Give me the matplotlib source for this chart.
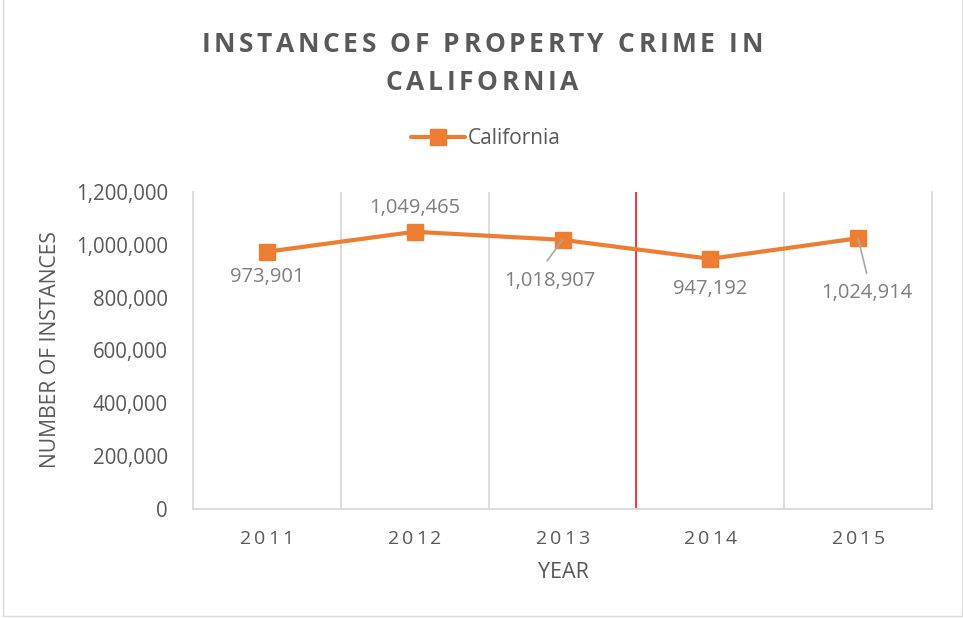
import matplotlib
matplotlib.use('Agg')
import matplotlib.pyplot as plt
from matplotlib import font_manager
from matplotlib.ft2font import FT2Font
from matplotlib.patches import Rectangle
from matplotlib.ticker import FuncFormatter

years = ['2011', '2012', '2013', '2014', '2015']
crimes = [973901, 1049465, 1018907, 947192, 1024914]
# where each data label sits relative to its marker (pixels), and leader line or not
label_offsets = [(0, -25), (0, 24), (-13, -41), (0, -30), (9, -55)]
leaders = [False, False, True, False, True]

W, H = 963, 619
FONT = 'Open Sans'
ORANGE = '#ED7D31'
DARK = '#595959'
LABEL = '#7f7f7f'
GRID = '#d9d9d9'


def spaced_text(fig, s, xc, yc, spacing, size, weight='normal', color=DARK):
    # matplotlib has no letter spacing, so lay the characters out one by one
    path = font_manager.findfont(font_manager.FontProperties(family=FONT, weight=weight))
    f = FT2Font(path)
    f.set_size(size, fig.dpi)
    adv = []
    for c in s:
        g = f.load_char(ord(c))
        adv.append(g.linearHoriAdvance / 65536)
    total = sum(adv) + spacing * (len(s) - 1)
    x = xc - total / 2
    for c, a in zip(s, adv):
        if c != ' ':
            fig.text(x / W, 1 - yc / H, c, ha='left', va='center_baseline',
                     fontsize=size, fontweight=weight, color=color, family=FONT)
        x += a + spacing


fig = plt.figure(figsize=(W / 100, H / 100), dpi=100)
ax = fig.add_axes([193 / W, 1 - 509 / H, (932 - 193) / W, (509 - 192) / H])

xs = list(range(len(years)))
ax.plot(xs, crimes, color=ORANGE, lw=3, marker='s', markersize=11,
        label='California', solid_capstyle='round')

ax.set_xlim(-0.5, len(years) - 0.5)
ax.set_ylim(0, 1200000)
ax.set_yticks(range(0, 1200001, 200000))
ax.yaxis.set_major_formatter(FuncFormatter(lambda v, p: f'{int(v):,}'))
ax.tick_params(axis='y', length=0, pad=18, labelsize=14.8, labelcolor=DARK)
for t in ax.get_yticklabels():
    t.set_family(FONT)
ax.set_xticks(xs)
ax.set_xticklabels([])
ax.tick_params(axis='x', length=0)

for b in [0.5, 1.5, 3.5]:
    ax.axvline(b, color=GRID, lw=1.3, zorder=0)
ax.axvline(2.5, color='#ee2a2a', lw=1.3, zorder=0)

ax.spines['top'].set_visible(False)
for side in ['left', 'right', 'bottom']:
    ax.spines[side].set_color(GRID)
    ax.spines[side].set_linewidth(1.3)

for i, v in enumerate(crimes):
    dx, dy = label_offsets[i]
    ax.annotate(f'{v:,}', (i, v), xytext=(dx, dy), textcoords='offset pixels',
                ha='center', va='center', fontsize=14.5, color=LABEL, family=FONT)
    if leaders[i]:
        ax.annotate('', (i, v), xytext=(dx * 0.95 - (3 if dx < 0 else 0), dy + 20),
                    textcoords='offset pixels',
                    arrowprops=dict(arrowstyle='-', color='#a6a6a6', lw=1.2,
                                    shrinkA=0, shrinkB=0))

# x tick labels with letter spacing
for i, y in enumerate(years):
    xp = ax.transData.transform((i, 0))[0]
    spaced_text(fig, y, xp, 537, 2.8, 14, color=DARK)

spaced_text(fig, 'INSTANCES OF PROPERTY CRIME IN', 482, 42, 3.6, 19, weight='bold')
spaced_text(fig, 'CALIFORNIA', 482, 80, 3.6, 19, weight='bold')

fig.text(50 / W, 1 - 350 / H, 'NUMBER OF INSTANCES', rotation=90, ha='center', va='center',
         fontsize=15.2, color=DARK, family=FONT)
fig.text(563 / W, 1 - 573 / H, 'YEAR', ha='center', va='center',
         fontsize=15.5, color=DARK, family=FONT)

leg = fig.legend(loc='center', bbox_to_anchor=(486 / W, 1 - 139 / H), frameon=False,
                 handlelength=2.6, handletextpad=0.12, prop={'family': FONT, 'size': 15})
for t in leg.get_texts():
    t.set_color(DARK)

fig.add_artist(Rectangle((3 / W, 3 / H), 1 - 4 / W, 1 - 2 / H, transform=fig.transFigure,
                         fill=False, edgecolor=GRID, lw=1))

fig.savefig('out.png', dpi=100)
